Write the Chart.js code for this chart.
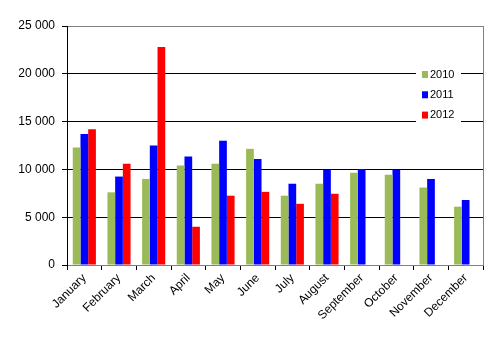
<!DOCTYPE html>
<html>
<head>
<meta charset="utf-8">
<script src="https://cdn.jsdelivr.net/npm/chart.js@4.4.0/dist/chart.umd.min.js"></script>
<style>
  body { margin: 0; background: #fff; }
</style>
</head>
<body>
<canvas id="myChart" width="498" height="340"></canvas>
<script>
// data
var months = ["January", "February", "March", "April", "May", "June",
  "July", "August", "September", "October", "November", "December"];
var years = ["2010", "2011", "2012"];
var v2010 = [12300, 7600, 9000, 10400, 10600, 12150, 7250, 8500, 9650, 9450, 8100, 6100];
var v2011 = [13700, 9250, 12500, 11350, 13000, 11100, 8500, 9950, 10050, 9950, 9000, 6800];
var v2012 = [14200, 10600, 22800, 4000, 7250, 7650, 6400, 7450, null, null, null, null];
var colors = ["#9bbb59", "#0000ff", "#ff0000"];

Chart.defaults.font.family = "'Liberation Sans', Arial, sans-serif";
Chart.defaults.font.size = 12;
Chart.defaults.color = "#000";

function spaced(v) {
  return String(v).replace(/\B(?=(\d{3})+(?!\d))/g, " ");
}

// legend sits inside the plot, over the gridlines
var insideLegend = {
  id: "insideLegend",
  afterDraw: function(chart) {
    var ctx = chart.ctx;
    var a = chart.chartArea;
    // right frame line
    ctx.save();
    ctx.strokeStyle = "#808080";
    ctx.lineWidth = 1;
    ctx.beginPath();
    ctx.moveTo(a.right + 0.5, a.top);
    ctx.lineTo(a.right + 0.5, a.bottom);
    ctx.stroke();

    var x = 416, y = 60;
    ctx.fillStyle = "#fff";
    ctx.fillRect(x, y, 45, 68);
    ctx.font = "11px 'Liberation Sans', Arial, sans-serif";
    ctx.textBaseline = "middle";
    chart.data.datasets.forEach(function(ds, i) {
      var cy = 74 + i * 20.3;
      ctx.fillStyle = ds.backgroundColor;
      ctx.fillRect(x + 6, cy - 3, 6, 7);
      ctx.fillStyle = "#000";
      ctx.fillText(ds.label, x + 14, cy + 0.5);
    });
    ctx.restore();
  }
};

var datasets = [v2010, v2011, v2012].map(function(vals, i) {
  return {
    label: years[i],
    data: vals,
    backgroundColor: colors[i],
    borderWidth: 0,
    barPercentage: 1.0,
    categoryPercentage: 0.667
  };
});

var ctx = document.getElementById("myChart").getContext("2d");
var myChart = new Chart(ctx, {
  type: "bar",
  data: { labels: months, datasets: datasets },
  plugins: [insideLegend],
  options: {
    responsive: false,
    animation: false,
    layout: { padding: { left: 0, top: 26, right: 15, bottom: 0 } },
    plugins: {
      legend: { display: false },
      tooltip: { enabled: false }
    },
    scales: {
      x: {
        afterFit: function(scale) { scale.height = 75; },
        grid: {
          offset: true,
          drawOnChartArea: false,
          tickLength: 5,
          tickColor: "#000"
        },
        border: { color: "#808080" },
        ticks: {
          maxRotation: 45,
          minRotation: 45,
          padding: 1,
          color: "#000"
        }
      },
      y: {
        min: 0,
        max: 25000,
        afterFit: function(scale) { scale.width = 67; },
        grid: {
          color: function(c) { return c.tick && c.tick.value === 25000 ? "#808080" : "#000"; },
          tickColor: "#000",
          tickLength: 5,
          lineWidth: 1
        },
        border: { color: "#000" },
        ticks: {
          stepSize: 5000,
          padding: 7,
          color: "#000",
          callback: function(v) { return spaced(v); }
        }
      }
    }
  }
});
</script>
</body>
</html>
